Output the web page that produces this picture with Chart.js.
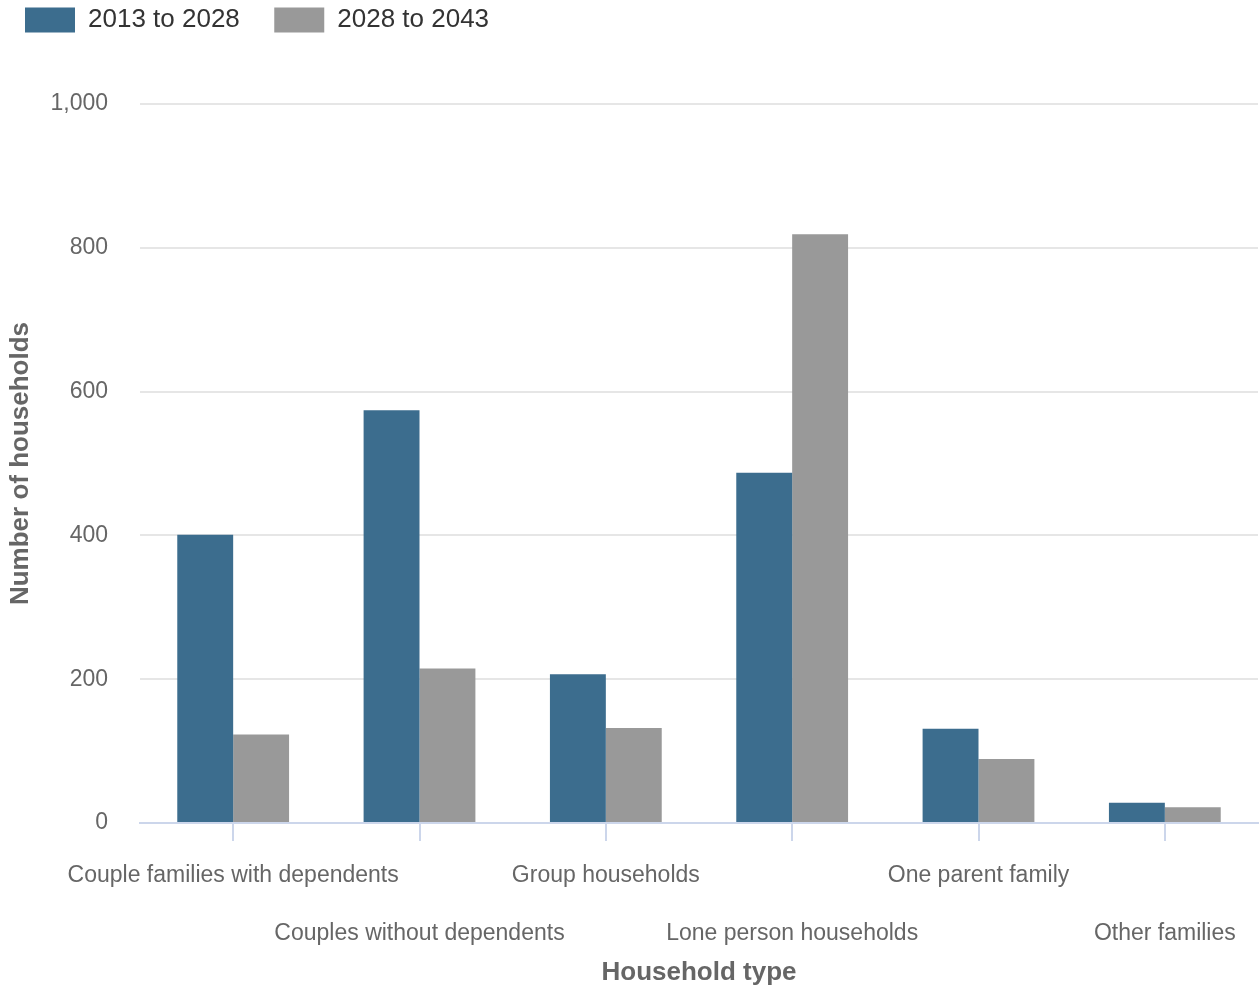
<!DOCTYPE html>
<html>
<head>
<meta charset="utf-8">
<script src="https://cdn.jsdelivr.net/npm/chart.js@4"></script>
<style>
  html, body { margin: 0; padding: 0; background: #fff; }
  canvas { display: block; }
</style>
</head>
<body>
<canvas id="households" width="1260" height="988"></canvas>
<script>
// household growth by type, two projection periods
const categories = [
  "Couple families with dependents",
  "Couples without dependents",
  "Group households",
  "Lone person households",
  "One parent family",
  "Other families"
];
const period1 = [401, 574, 207, 487, 131, 28];   // 2013 to 2028
const period2 = [123, 215, 132, 819, 89, 22];    // 2028 to 2043
const yTicks = [0, 200, 400, 600, 800, 1000];

// stagger the long category names over two rows
const staggered = categories.map((c, i) => i % 2 === 0 ? [c, ""] : ["", c]);

Chart.defaults.font.family = "'Liberation Sans', Arial, sans-serif";

// fixed room under the legend so the plot starts at the same height
const legendSpace = {
  id: "legendSpace",
  beforeInit(chart) {
    const fit = chart.legend.fit;
    chart.legend.fit = function () {
      fit.call(this);
      this.height = 117;
    };
  }
};

new Chart(document.getElementById("households"), {
  type: "bar",
  data: {
    labels: staggered,
    datasets: [
      { label: "2013 to 2028", data: period1, backgroundColor: "#3c6d8e" },
      { label: "2028 to 2043", data: period2, backgroundColor: "#999999" }
    ]
  },
  plugins: [legendSpace],
  options: {
    responsive: false,
    animation: false,
    categoryPercentage: 0.6,
    barPercentage: 1.0,
    layout: { padding: { left: 5, right: 2, top: -13, bottom: 0 } },
    plugins: {
      legend: {
        position: "top",
        align: "start",
        labels: {
          boxWidth: 50,
          boxHeight: 25,
          padding: 20,
          color: "#333333",
          font: { size: 26 },
          generateLabels(chart) {
            const items = Chart.defaults.plugins.legend.labels.generateLabels(chart);
            items.forEach(it => { it.text = it.text + "  "; });
            return items;
          }
        }
      },
      tooltip: { enabled: false }
    },
    scales: {
      x: {
        afterFit: s => { s.height = 165; },
        grid: {
          offset: false,
          drawOnChartArea: false,
          drawTicks: true,
          tickLength: 18,
          tickColor: "#ccd6eb",
          lineWidth: 2
        },
        border: { display: true, color: "#ccd6eb", width: 2 },
        ticks: {
          autoSkip: false,
          maxRotation: 0,
          color: "#666666",
          font: { size: 23, lineHeight: 2.52 },
          padding: 6
        },
        title: {
          display: true,
          text: "Household type",
          color: "#666666",
          font: { size: 26, weight: "bold" },
          padding: { top: 0, bottom: 0 }
        }
      },
      y: {
        min: 0,
        max: 1000,
        afterFit: s => { s.width = 135; },
        afterBuildTicks: s => { s.ticks = yTicks.map(v => ({ value: v })); },
        grid: { color: "#e6e6e6", lineWidth: 2, drawTicks: false },
        border: { display: false },
        ticks: {
          color: "#666666",
          font: { size: 23 },
          padding: 32
        },
        title: {
          display: true,
          text: "Number of households",
          color: "#666666",
          font: { size: 26, weight: "bold" },
          padding: { top: 0, bottom: 0 }
        }
      }
    }
  }
});
</script>
</body>
</html>
